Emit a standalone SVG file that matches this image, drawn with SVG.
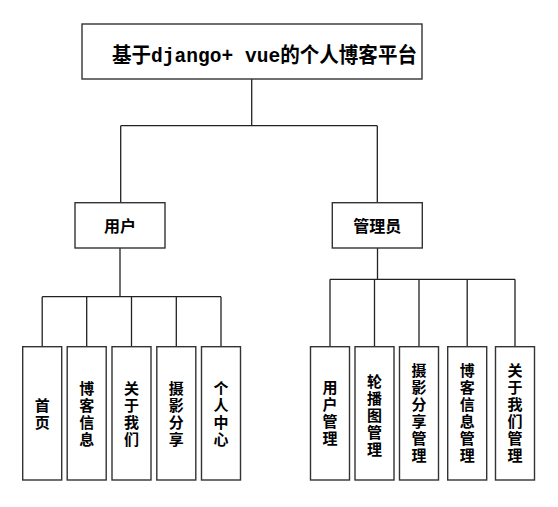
<svg xmlns="http://www.w3.org/2000/svg" width="558" height="507" viewBox="0 0 558 507">
<style>
.box{fill:#fff;stroke:#333;stroke-width:1.4}
.ln{fill:none;stroke:#222;stroke-width:1.3}
.t{font-family:"Noto Sans CJK SC","Liberation Sans",sans-serif;font-size:16px;font-weight:bold;fill:#000;text-anchor:middle;dominant-baseline:central}
.v{font-family:"Noto Sans CJK SC","Liberation Sans",sans-serif;font-size:15px;font-weight:bold;fill:#000;text-anchor:middle;writing-mode:vertical-rl;letter-spacing:2px}
.ttl{font-family:"Liberation Mono","Noto Sans CJK SC",monospace;font-size:21px;font-weight:bold;fill:#000}
</style>
<rect width="558" height="507" fill="#fff"/>
<g id="connectors">
<path class="ln" d="M251.7 79V125.7M120.7 125.7H377.3M120.7 125.7V202.7M377.3 125.7V202.7"/>
<path class="ln" d="M120 248V296.7M42.2 296.7H221M42.2 296.7V346.7M86.7 296.7V346.7M131.5 296.7V346.7M176.3 296.7V346.7M221 296.7V346.7"/>
<path class="ln" d="M377.5 248V279.3M330 279.3H515M330 279.3V346.7M374.5 279.3V346.7M419 279.3V346.7M467.2 279.3V346.7M515 279.3V346.7"/>
</g>
<g id="root">
<rect class="box" x="82" y="24" width="340" height="55"/>
<text class="ttl" x="112" y="62" textLength="305" lengthAdjust="spacingAndGlyphs">基于django+ vue的个人博客平台</text>
</g>
<g id="user">
<rect class="box" x="75" y="202.7" width="90" height="45.3"/>
<text class="t" x="120" y="225">用户</text>
</g>
<g id="admin">
<rect class="box" x="332.3" y="202.7" width="90" height="45.3"/>
<text class="t" x="377.3" y="225">管理员</text>
</g>
<g id="u1"><rect class="box" x="22.7" y="346.7" width="39" height="133.3"/>
<text class="v" x="42.2" y="415">首页</text></g>
<g id="u2"><rect class="box" x="67.2" y="346.7" width="39" height="133.3"/>
<text class="v" x="86.7" y="415">博客信息</text></g>
<g id="u3"><rect class="box" x="112" y="346.7" width="39" height="133.3"/>
<text class="v" x="131.5" y="415">关于我们</text></g>
<g id="u4"><rect class="box" x="156.8" y="346.7" width="39" height="133.3"/>
<text class="v" x="176.3" y="415">摄影分享</text></g>
<g id="u5"><rect class="box" x="201.5" y="346.7" width="39" height="133.3"/>
<text class="v" x="221" y="415">个人中心</text></g>
<g id="a1"><rect class="box" x="310.5" y="346.7" width="39" height="133.3"/>
<text class="v" x="330" y="414">用户管理</text></g>
<g id="a2"><rect class="box" x="355" y="346.7" width="39" height="133.3"/>
<text class="v" x="374.5" y="416">轮播图管理</text></g>
<g id="a3"><rect class="box" x="399.5" y="346.7" width="39" height="133.3"/>
<text class="v" x="419" y="414">摄影分享管理</text></g>
<g id="a4"><rect class="box" x="447.7" y="346.7" width="39" height="133.3"/>
<text class="v" x="467.2" y="414">博客信息管理</text></g>
<g id="a5"><rect class="box" x="495.5" y="346.7" width="39" height="133.3"/>
<text class="v" x="515" y="414">关于我们管理</text></g>
</svg>
